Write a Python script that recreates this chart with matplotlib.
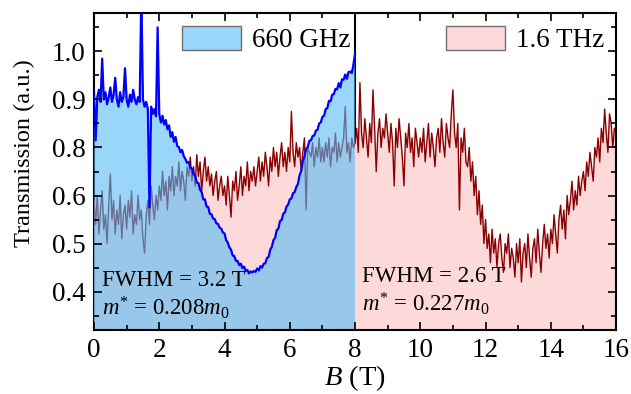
import numpy as np
import matplotlib
matplotlib.use("Agg")
import matplotlib.pyplot as plt
from matplotlib.patches import Patch
from matplotlib.ticker import MultipleLocator, FixedLocator

plt.rcParams['font.family'] = ['Liberation Serif', 'DejaVu Serif']
plt.rcParams['mathtext.fontset'] = 'custom'
plt.rcParams['mathtext.rm'] = 'Liberation Serif'
plt.rcParams['mathtext.it'] = 'Liberation Serif:italic'
plt.rcParams['mathtext.bf'] = 'Liberation Serif:bold'

# ---------------- data ----------------
field_660 = np.linspace(0.0, 8.0, 161)
trans_660 = [
    0.915, 0.815, 0.905, 0.92, 0.895, 0.985, 0.90, 0.915, 0.89, 0.905, 0.925, 0.895, 0.91, 0.945, 0.90, 0.885, 0.915, 0.895, 0.905, 0.965,
    0.90, 0.885, 0.91, 0.895, 0.92, 0.90, 0.89, 0.905, 0.895, 1.12, 0.90, 0.885, 0.895, 0.88, 0.675, 0.885, 0.87, 0.88, 0.865, 1.05,
    0.87, 0.852, 0.866, 0.848, 0.857, 0.838, 0.846, 0.822, 0.832, 0.812, 0.822, 0.803, 0.801, 0.79, 0.795, 0.782, 0.776, 0.768, 0.77, 0.758,
    0.756, 0.744, 0.742, 0.727, 0.726, 0.712, 0.707, 0.692, 0.692, 0.677, 0.676, 0.662, 0.661, 0.652, 0.651, 0.642, 0.641, 0.633, 0.631, 0.623,
    0.621, 0.607, 0.602, 0.592, 0.587, 0.575, 0.574, 0.564, 0.564, 0.555, 0.558, 0.549, 0.552, 0.543, 0.545, 0.538, 0.542, 0.54, 0.543, 0.541,
    0.548, 0.544, 0.553, 0.55, 0.558, 0.559, 0.57, 0.572, 0.587, 0.593, 0.607, 0.612, 0.628, 0.631, 0.647, 0.649, 0.662, 0.665, 0.677, 0.681,
    0.692, 0.694, 0.705, 0.707, 0.718, 0.724, 0.742, 0.751, 0.772, 0.781, 0.797, 0.801, 0.814, 0.815, 0.824, 0.825, 0.835, 0.837, 0.85, 0.852,
    0.864, 0.866, 0.88, 0.882, 0.897, 0.896, 0.91, 0.911, 0.922, 0.921, 0.934, 0.925, 0.942, 0.941, 0.952, 0.943, 0.957, 0.958, 0.955, 0.972, 0.995,
]

field_16 = np.linspace(0.0, 16.0, 321)
trans_16 = [
    0.69, 0.64, 0.70, 0.62, 0.67, 0.71, 0.63, 0.66, 0.60, 0.68, 0.745, 0.65, 0.69, 0.62, 0.67, 0.64, 0.70, 0.61, 0.66, 0.68,
    0.63, 0.69, 0.655, 0.71, 0.62, 0.66, 0.64, 0.70, 0.65, 0.67, 0.61, 0.58, 0.66, 0.69, 0.64, 0.72, 0.68, 0.65, 0.70, 0.67,
    0.72, 0.69, 0.75, 0.70, 0.73, 0.67, 0.74, 0.71, 0.76, 0.70, 0.74, 0.72, 0.77, 0.71, 0.75, 0.73, 0.69, 0.76, 0.74, 0.78,
    0.73, 0.76, 0.72, 0.785, 0.74, 0.77, 0.71, 0.75, 0.78, 0.73, 0.76, 0.72, 0.745, 0.70, 0.73, 0.75, 0.69, 0.72, 0.74, 0.70,
    0.72, 0.68, 0.74, 0.70, 0.655, 0.73, 0.71, 0.75, 0.69, 0.72, 0.76, 0.70, 0.74, 0.72, 0.77, 0.71, 0.75, 0.73, 0.76, 0.72,
    0.75, 0.78, 0.73, 0.77, 0.74, 0.79, 0.76, 0.72, 0.78, 0.75, 0.80, 0.76, 0.79, 0.74, 0.78, 0.81, 0.76, 0.79, 0.75, 0.80,
    0.77, 0.875, 0.79, 0.76, 0.81, 0.78, 0.80, 0.75, 0.79, 0.82, 0.67, 0.80, 0.79, 0.78, 0.81, 0.76, 0.80, 0.78, 0.82, 0.77,
    0.80, 0.77, 0.81, 0.78, 0.82, 0.76, 0.80, 0.79, 0.83, 0.77, 0.81, 0.78, 0.80, 0.82, 0.885, 0.79, 0.81, 0.77, 0.82, 0.80,
    0.81, 0.84, 0.79, 0.935, 0.83, 0.80, 0.86, 0.82, 0.78, 0.85, 0.81, 0.92, 0.84, 0.75, 0.83, 0.86, 0.80, 0.84, 0.82, 0.87,
    0.83, 0.79, 0.85, 0.81, 0.72, 0.84, 0.80, 0.86, 0.82, 0.78, 0.72, 0.83, 0.80, 0.85, 0.79, 0.82, 0.76, 0.84, 0.81, 0.78,
    0.82, 0.79, 0.84, 0.77, 0.81, 0.85, 0.78, 0.83, 0.80, 0.76, 0.82, 0.84, 0.79, 0.86, 0.81, 0.78, 0.85, 0.82, 0.80, 0.87,
    0.92, 0.83, 0.80, 0.85, 0.67, 0.82, 0.79, 0.84, 0.77, 0.76, 0.80, 0.73, 0.77, 0.70, 0.74, 0.66, 0.71, 0.64, 0.68, 0.60,
    0.65, 0.59, 0.62, 0.56, 0.63, 0.58, 0.61, 0.55, 0.60, 0.62, 0.57, 0.54, 0.60, 0.58, 0.62, 0.55, 0.59, 0.57, 0.53, 0.60,
    0.56, 0.61, 0.52, 0.58, 0.60, 0.55, 0.62, 0.57, 0.53, 0.59, 0.61, 0.56, 0.63, 0.58, 0.54, 0.60, 0.64, 0.59, 0.62, 0.57,
    0.63, 0.60, 0.66, 0.62, 0.58, 0.65, 0.68, 0.63, 0.67, 0.61, 0.70, 0.66, 0.69, 0.73, 0.67, 0.71, 0.68, 0.74, 0.70, 0.73,
    0.75, 0.71, 0.77, 0.74, 0.79, 0.76, 0.73, 0.80, 0.78, 0.82, 0.77, 0.84, 0.81, 0.88, 0.83, 0.79, 0.87, 0.85, 0.80, 0.84, 0.83,
]

legend_labels = ["660 GHz", "1.6 THz"]
ytick_pos = [1.0, 0.9, 0.8, 0.7, 0.6, 0.5]
ytick_labels = ["1.0", "0.9", "0.8", "0.6", "0.5", "0.4"]
xtick_pos = [0, 2, 4, 6, 8, 10, 12, 14, 16]
fwhm_texts = ["FWHM = 3.2 T", "FWHM = 2.6 T"]
mass_texts = [r"$m^{*}$ = 0.208$m_{\mathit{0}}$", r"$m^{*}$ = 0.227$m_{\mathit{0}}$"]

# ---------------- style ----------------
blue_fill = (85/255, 187/255, 247/255, 0.6)
pink_fill = "#FDD9D9"
blue_line = "#0000FF"
red_line = "#8B0000"

fig = plt.figure(figsize=(6.31, 3.94), dpi=100)
ax = fig.add_axes([0.149, 0.1624, 0.8273, 0.8046])
ymin, ymax = 0.42, 1.08
ax.set_xlim(0, 16)
ax.set_ylim(ymin, ymax)

ax.axvline(8, color="black", lw=1.5, zorder=0.8)
ax.fill_between(field_16, ymin, trans_16, color=pink_fill, lw=0, zorder=1)
ax.plot(field_16, trans_16, color=red_line, lw=1.0, zorder=1.5)
ax.fill_between(field_660, ymin, trans_660, facecolor=blue_fill, lw=0, zorder=2)
ax.plot(field_660, trans_660, color=blue_line, lw=1.6, zorder=2.2)

for s in ax.spines.values():
    s.set_linewidth(1.5)
ax.spines['left'].set_zorder(0.8)

ax.xaxis.set_major_locator(FixedLocator(xtick_pos))
ax.xaxis.set_minor_locator(MultipleLocator(1))
ax.yaxis.set_major_locator(FixedLocator(ytick_pos))
ax.set_yticklabels(ytick_labels)
ax.yaxis.set_minor_locator(MultipleLocator(0.05))
ax.tick_params(which="both", direction="in", top=True, right=True, labelsize=19.5, width=1.2)
ax.tick_params(which="major", length=6, pad=6)
ax.tick_params(which="minor", length=3.5)
ax.set_axisbelow(False)

ax.set_xlabel(r"$B$ (T)", fontsize=20.5, labelpad=0)
ax.set_ylabel("Transmission (a.u.)", fontsize=17.5)
ax.yaxis.set_label_coords(-0.113, 0.558)

h1 = [Patch(facecolor=blue_fill, edgecolor="#707070", lw=1.0)]
h2 = [Patch(facecolor=pink_fill, edgecolor="#707070", lw=1.0)]
leg1 = ax.legend(h1, [legend_labels[0]], loc="upper left", bbox_to_anchor=(0.168, 0.96),
                 frameon=False, fontsize=19.5, handlelength=2.2, handleheight=1.0,
                 handletextpad=0.4, borderpad=0, borderaxespad=0)
ax.add_artist(leg1)
ax.legend(h2, [legend_labels[1]], loc="upper left", bbox_to_anchor=(0.674, 0.96),
          frameon=False, fontsize=19.5, handlelength=2.2, handleheight=1.0,
          handletextpad=0.4, borderpad=0, borderaxespad=0)

ax.text(0.0148, 0.139, fwhm_texts[0], transform=ax.transAxes, fontsize=16.5, va="baseline", zorder=5)
ax.text(0.0148, 0.047, mass_texts[0], transform=ax.transAxes, fontsize=16.5, va="baseline", zorder=5)
ax.text(0.513, 0.152, fwhm_texts[1], transform=ax.transAxes, fontsize=16.5, va="baseline", zorder=5)
ax.text(0.513, 0.058, mass_texts[1], transform=ax.transAxes, fontsize=16.5, va="baseline", zorder=5)

fig.savefig("out.png", dpi=100)
